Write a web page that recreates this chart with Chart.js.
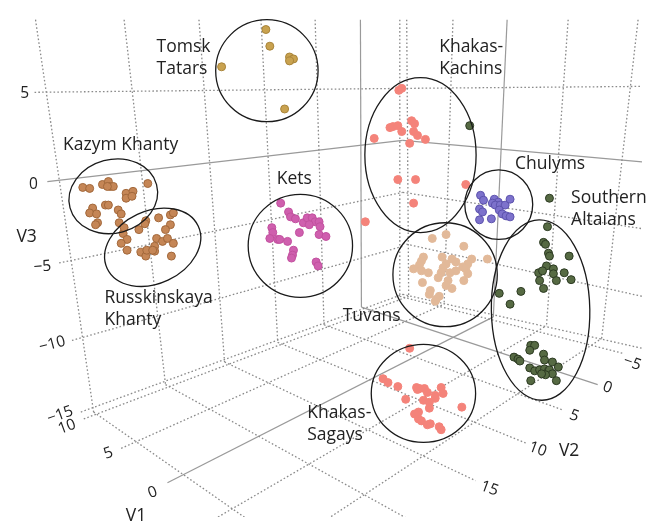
<!DOCTYPE html>
<html>
<head>
<meta charset="utf-8">
<script src="https://cdn.jsdelivr.net/npm/chart.js@4.4.1/dist/chart.umd.min.js"></script>
<style>
  html, body { margin: 0; padding: 0; background: #fff; }
</style>
</head>
<body>
<canvas id="chart" width="647" height="522"></canvas>
<script>
const tomskTatars = [[265,25],[269,42],[289,53],[293,55],[289,57],[220,63],[284,106]];
const kazymKhanty = [[79,186],[86,187],[99,183],[105,180],[107,185],[110,185],[104,185],[145,182],[123,192],[130,190],[123,197],[129,195],[89,207],[86,212],[93,213],[102,204],[105,204],[115,209],[118,213],[94,222],[92,224],[116,222],[121,227]];
const russkinskayaKhanty = [[143,220],[142,223],[136,229],[156,217],[168,214],[171,212],[168,224],[163,229],[120,233],[124,239],[118,243],[124,250],[138,252],[143,256],[144,250],[152,246],[152,251],[154,238],[160,241],[165,238],[171,243],[169,256],[150,250]];
const kets = [[280,202],[288,211],[290,216],[295,218],[303,222],[307,217],[312,217],[315,221],[319,221],[309,224],[320,226],[271,227],[272,232],[299,232],[269,238],[277,239],[279,239],[287,241],[319,234],[326,236],[293,250],[292,255],[291,258],[316,262],[318,266]];
const khakasKachins = [[400,87],[403,85],[375,136],[391,125],[394,124],[399,123],[403,129],[413,118],[416,121],[415,129],[419,133],[427,137],[411,141],[399,178],[417,178],[415,202],[366,221],[468,183]];
const chulyms = [[483,194],[486,199],[497,198],[501,201],[495,202],[498,204],[503,204],[508,204],[513,198],[482,208],[485,211],[502,209],[505,213],[509,215],[513,216],[494,218],[482,219]];
const tuvans = [[448,234],[434,238],[466,246],[425,257],[444,257],[490,259],[474,259],[454,259],[458,262],[423,261],[421,265],[448,264],[470,264],[465,267],[415,269],[423,271],[445,268],[458,271],[468,269],[430,273],[443,273],[452,273],[470,274],[440,278],[450,281],[466,281],[424,283],[448,286],[454,289],[432,291],[431,295],[441,297],[438,300],[437,302]];
const southernAltaians = [[472,123],[553,197],[551,226],[547,242],[549,244],[552,253],[553,256],[573,256],[550,266],[557,269],[557,274],[542,273],[546,271],[568,273],[543,281],[560,281],[575,280],[547,289],[502,294],[524,292],[513,305],
  [534,347],[538,347],[533,352],[547,356],[517,359],[521,361],[523,363],[548,362],[556,364],[562,369],[533,370],[538,373],[543,372],[548,371],[552,373],[553,372],[556,376],[549,377],[534,383],[560,383],[545,376]];
const khakasSagays = [[411,350],[384,381],[389,385],[399,389],[418,390],[421,391],[426,391],[443,390],[429,395],[445,396],[437,398],[437,401],[407,402],[425,403],[431,405],[431,411],[464,410],[420,415],[416,417],[420,422],[423,424],[429,428],[432,427],[441,430],[443,433],[419,392]];

// group ellipses: centre x, centre y, radius x, radius y, tilt (deg)
const groupEllipses = [
  [266,67,52,52,0], [110,195,45.5,37.5,-15], [150,247,51,37,-25], [300,245.5,53,52.5,0],
  [422,153,56.5,79,0], [501.5,203.5,34.5,35.5,0], [447,275,53,53,0], [544,311,50,92,-1], [425,396,53,50,0]
];

// grid lines of the three back panes, as projected end points
const dottedGrid = [
  // left pane, V2 = 25 20 15 10 5 -5
  [31,15,90,415],[121,15,163,387],[197,15,223,364],[260,15,277,344],[315,15,324,326],[401,15,401,297],
  // back pane, V1 = 10 5 -5 -10
  [408,15,410,297],[455,15,446,305],[572,15,550,327],[643,15,606,340],
  // left pane, V3 = 5 -5 -10 -15
  [30,89,404,85],[55,263,404,191],[68,342,404,246],[77,415,404,295],
  // back pane, V3 = 5 -5 -10 -15
  [404,85,647,83],[404,191,647,228],[404,243,647,297],[404,295,647,350],
  // floor, V1 = 10 5 -5 -10
  [80,422,410,297],[118,452,446,305],[213,524,550,327],[270,562,606,340],
  // floor, V2 = -5 5 10 15 20 25
  [401,297,627,355],[324,326,567,413],[277,344,530,447],[223,364,478,485],[163,387,420,530],[90,415,340,590]
];
const zeroLines = [
  [361,15,362,308], [510,15,496,318], [43,180,404,138], [404,138,647,160],
  [165,487,496,318], [362,308,602,387]
];

const v3Ticks = ["5", "0", "\u22125", "\u221210", "\u221215"];
const v3TickPos = [[20,90,0],[29,183,0],[38,267,-5],[48,346,-15],[56,418,-20]];
const v1Ticks = ["10", "5", "0"];
const v1TickPos = [[63,430,-20],[105,457,-20],[150,497,-20]];
const v2Ticks = ["\u22125", "0", "5", "10", "15"];
const v2TickPos = [[637,365,20],[612,390,20],[578,419,20],[541,453,20],[492,493,20]];
const axisTitles = [["V3",22,237],["V2",573,455],["V1",133,521]];

const groupLabels = [
  [["Tomsk","Tatars"],154,43], [["Kazym Khanty"],59,143], [["Kets"],276,177],
  [["Khakas-","Kachins"],441,43], [["Chulyms"],518,162], [["Southern","Altaians"],575,197],
  [["Russkinskaya","Khanty"],101,299], [["Tuvans"],343,317], [["Khakas-","Sagays"],307,416]
];

const toXY = arr => arr.map(p => ({ x: p[0], y: p[1] }));

function groupSet(data, fill, border) {
  return {
    data: toXY(data),
    backgroundColor: fill,
    borderColor: border,
    borderWidth: 1,
    pointRadius: 4,
    pointHoverRadius: 4,
    order: 0
  };
}

function lineSet(seg, dashed) {
  return {
    data: [{ x: seg[0], y: seg[1] }, { x: seg[2], y: seg[3] }],
    showLine: true,
    pointRadius: 0,
    borderColor: dashed ? "#8a8a8a" : "#9a9a9a",
    borderWidth: dashed ? 1.3 : 1.2,
    borderDash: dashed ? [1.6, 2.2] : [],
    order: 5
  };
}

const datasets = [
  groupSet(tomskTatars, "#c9a24f", "#a8843a"),
  groupSet(kazymKhanty, "#c58656", "#a2683b"),
  groupSet(russkinskayaKhanty, "#c58656", "#a2683b"),
  groupSet(kets, "#cf5fae", "#c2519f"),
  groupSet(khakasKachins, "#f4837a", "#f4837a"),
  groupSet(chulyms, "#7d72cc", "#5d53ad"),
  groupSet(tuvans, "#e2b999", "#e2b999"),
  groupSet(southernAltaians, "#566a43", "#2c3a22"),
  groupSet(khakasSagays, "#f4837a", "#f4837a")
];
dottedGrid.forEach(s => datasets.push(lineSet(s, true)));
zeroLines.forEach(s => datasets.push(lineSet(s, false)));

const overlay = {
  id: "overlay",
  afterDatasetsDraw(chart) {
    const { ctx, scales: { x, y } } = chart;
    ctx.save();
    ctx.strokeStyle = "#1a1a1a";
    ctx.lineWidth = 1.3;
    groupEllipses.forEach(e => {
      const cx = x.getPixelForValue(e[0]), cy = y.getPixelForValue(e[1]);
      const rx = Math.abs(x.getPixelForValue(e[0] + e[2]) - cx);
      const ry = Math.abs(y.getPixelForValue(e[1] + e[3]) - cy);
      ctx.beginPath();
      ctx.ellipse(cx, cy, rx, ry, e[4] * Math.PI / 180, 0, Math.PI * 2);
      ctx.stroke();
    });
    ctx.restore();
  },
  afterDraw(chart) {
    const { ctx, scales: { x, y } } = chart;
    ctx.save();
    ctx.fillStyle = "#222";
    ctx.textBaseline = "middle";
    ctx.font = '17.5px "Open Sans"';
    ctx.textAlign = "left";
    groupLabels.forEach(l => {
      l[0].forEach((t, i) => ctx.fillText(t, x.getPixelForValue(l[1]), y.getPixelForValue(l[2]) + i * 22));
    });
    ctx.textAlign = "center";
    axisTitles.forEach(a => ctx.fillText(a[0], x.getPixelForValue(a[1]), y.getPixelForValue(a[2])));
    ctx.font = '15.5px "Open Sans"';
    const tick = (txt, p) => {
      ctx.save();
      ctx.translate(x.getPixelForValue(p[0]), y.getPixelForValue(p[1]));
      ctx.rotate(p[2] * Math.PI / 180);
      ctx.fillText(txt, 0, 0);
      ctx.restore();
    };
    v3Ticks.forEach((t, i) => tick(t, v3TickPos[i]));
    v1Ticks.forEach((t, i) => tick(t, v1TickPos[i]));
    v2Ticks.forEach((t, i) => tick(t, v2TickPos[i]));
    ctx.restore();
  }
};

new Chart(document.getElementById("chart"), {
  type: "scatter",
  data: { datasets },
  options: {
    responsive: false,
    animation: false,
    devicePixelRatio: 1,
    layout: { padding: 0 },
    plugins: { legend: { display: false }, tooltip: { enabled: false } },
    scales: {
      x: { type: "linear", min: 0, max: 647, display: false },
      y: { type: "linear", min: 0, max: 522, reverse: true, display: false }
    }
  },
  plugins: [overlay]
});
</script>
</body>
</html>
